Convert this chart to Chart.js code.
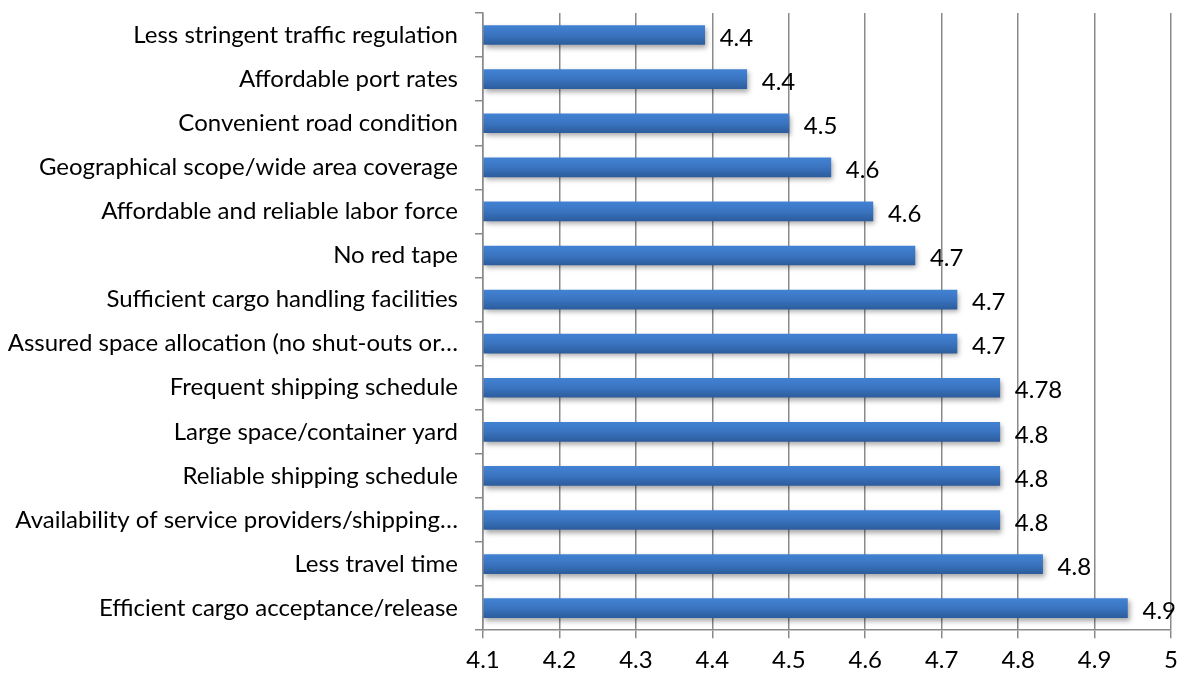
<!DOCTYPE html>
<html>
<head>
<meta charset="utf-8">
<script src="https://cdn.jsdelivr.net/npm/chart.js@4"></script>
<style>
  html, body { margin: 0; padding: 0; background: #fff; }
  #wrap { width: 1186px; height: 674px; }
</style>
</head>
<body>
<div id="wrap"><canvas id="myChart" width="1186" height="674"></canvas></div>
<script>
// data, top to bottom
var factors = [
  'Less stringent traffic regulation',
  'Affordable port rates',
  'Convenient road condition',
  'Geographical scope/wide area coverage',
  'Affordable and reliable labor force',
  'No red tape',
  'Sufficient cargo handling facilities',
  'Assured space allocation (no shut-outs or\u2026',
  'Frequent shipping schedule',
  'Large space/container yard',
  'Reliable shipping schedule',
  'Availability of service providers/shipping\u2026',
  'Less travel time',
  'Efficient cargo acceptance/release'
];
var scores = [4.39, 4.445, 4.5, 4.555, 4.61, 4.665, 4.72, 4.72, 4.776, 4.776, 4.776, 4.776, 4.832, 4.943];
var scoreLabels = ['4.4', '4.4', '4.5', '4.6', '4.6', '4.7', '4.7', '4.7', '4.78', '4.8', '4.8', '4.8', '4.8', '4.9'];
var xTicks = [4.1, 4.2, 4.3, 4.4, 4.5, 4.6, 4.7, 4.8, 4.9, 5];

var FONT = 'Lato, "Open Sans", sans-serif';
var FONT_SIZE = 24;
var GRID = '#8a8a8a';
var BAR_H = 19;

function barFill(context) {
    var chart = context.chart;
    var yScale = chart.scales.y;
    if (!yScale) return '#3a74c0';
    var yc = yScale.getPixelForValue(context.dataIndex);
    if (!isFinite(yc)) return '#3a74c0';
    var g = chart.ctx.createLinearGradient(0, yc - BAR_H / 2, 0, yc + BAR_H / 2);
    g.addColorStop(0, '#4282d3');
    g.addColorStop(0.5, '#3a74c0');
    g.addColorStop(1, '#2c5d9d');
    return g;
}

var shadowPlugin = {
    id: 'barShadow',
    beforeDatasetDraw: function(chart) {
        var c = chart.ctx;
        c.save();
        c.shadowColor = 'rgba(0,0,0,0.35)';
        c.shadowBlur = 5;
        c.shadowOffsetX = 2;
        c.shadowOffsetY = 3;
    },
    afterDatasetDraw: function(chart) {
        chart.ctx.restore();
    }
};

var valueLabels = {
    id: 'valueLabels',
    afterDatasetsDraw: function(chart) {
        var c = chart.ctx;
        var meta = chart.getDatasetMeta(0);
        c.save();
        c.font = FONT_SIZE + 'px ' + FONT;
        c.fillStyle = '#000';
        c.textAlign = 'left';
        c.textBaseline = 'middle';
        meta.data.forEach(function(bar, i) {
            c.fillText(scoreLabels[i], bar.x + 15, bar.y + 3);
        });
        c.restore();
    }
};

var ctx = document.getElementById('myChart');
var myChart = new Chart(ctx, {
    type: 'bar',
    data: {
        labels: factors,
        datasets: [{
            data: scores,
            backgroundColor: barFill,
            borderWidth: 0,
            barThickness: BAR_H,
            base: 4.1
        }]
    },
    options: {
        indexAxis: 'y',
        responsive: false,
        animation: false,
        layout: { padding: { top: 13, right: 8, left: 0, bottom: -9 } },
        plugins: {
            legend: { display: false },
            tooltip: { enabled: false }
        },
        scales: {
            x: {
                min: 4.1,
                max: 5,
                afterBuildTicks: function(scale) {
                    scale.ticks = xTicks.map(function(v) { return { value: v }; });
                },
                ticks: {
                    color: '#000',
                    font: { size: FONT_SIZE, family: FONT },
                    padding: 8,
                    maxRotation: 0,
                    callback: function(v) { return String(Math.round(v * 10) / 10); }
                },
                grid: { color: GRID, lineWidth: 1.5, tickLength: 8 },
                border: { color: GRID, width: 1.5 }
            },
            y: {
                afterFit: function(scale) {
                    scale.width = 483;
                    scale.paddingTop = 0;
                    scale.paddingBottom = 0;
                },
                ticks: {
                    color: '#000',
                    font: { size: FONT_SIZE, family: FONT },
                    padding: 17,
                    autoSkip: false
                },
                grid: { drawOnChartArea: false, color: GRID, lineWidth: 1.5, tickLength: 8, offset: true },
                border: { color: GRID, width: 1.5 }
            }
        }
    },
    plugins: [shadowPlugin, valueLabels]
});
</script>
</body>
</html>
